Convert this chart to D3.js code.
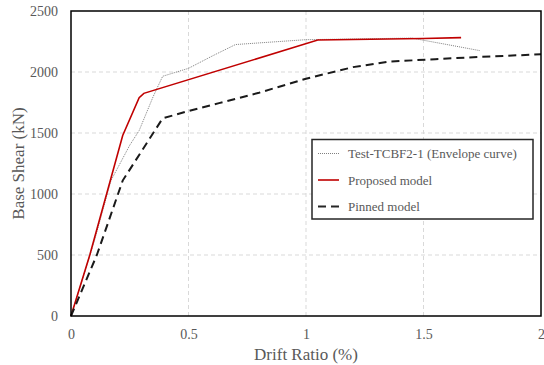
<!DOCTYPE html>
<html>
<head>
<meta charset="utf-8">
<script src="https://cdn.jsdelivr.net/npm/d3@7"></script>
<style>
  body { margin: 0; background: #fff; }
</style>
</head>
<body>
<div id="chart"></div>
<script>
// test envelope curve (drift %, kN)
const testDrift = [0, 0.1, 0.17, 0.25, 0.29, 0.35, 0.39, 0.5, 0.6, 0.7, 1.0, 1.45, 1.6, 1.74];
const testShear = [0, 620, 1110, 1400, 1520, 1800, 1965, 2030, 2130, 2225, 2265, 2278, 2225, 2175];

const propDrift = [0, 0.08, 0.22, 0.29, 0.31, 1.05, 1.5, 1.66];
const propShear = [0, 500, 1480, 1790, 1825, 2262, 2275, 2282];

const pinDrift = [0, 0.11, 0.22, 0.39, 0.5, 0.63, 0.8, 1.0, 1.2, 1.35, 1.55, 1.75, 2.0];
const pinShear = [0, 500, 1110, 1620, 1680, 1745, 1830, 1945, 2040, 2085, 2105, 2125, 2145];

const xTicks = [0, 0.5, 1, 1.5, 2];
const yTicks = [0, 500, 1000, 1500, 2000, 2500];
const legendLabels = ["Test-TCBF2-1 (Envelope curve)", "Proposed model", "Pinned model"];

const FONT = '"Liberation Serif"';
const W = 544, H = 365;
const margin = {top: 11, right: 3, bottom: 49, left: 71};
const width = W - margin.left - margin.right,
    height = H - margin.top - margin.bottom;

const svg = d3.select("#chart").append("svg")
    .attr("width", W)
    .attr("height", H);

const g = svg.append("g").attr("transform", `translate(${margin.left},${margin.top})`);

const x = d3.scaleLinear().domain([0, 2]).range([0, width]);
const y = d3.scaleLinear().domain([0, 2500]).range([height, 0]);

// grid
g.selectAll(".vgrid").data(xTicks.slice(1, -1)).enter().append("line")
    .attr("x1", d => x(d)).attr("x2", d => x(d))
    .attr("y1", 0).attr("y2", height)
    .style("stroke", "#d9d9d9").style("stroke-dasharray", "4,3");
g.selectAll(".hgrid").data(yTicks.slice(1, -1)).enter().append("line")
    .attr("x1", 0).attr("x2", width)
    .attr("y1", d => y(d)).attr("y2", d => y(d))
    .style("stroke", "#d9d9d9").style("stroke-dasharray", "4,3");

// axes (labels only)
const xAxis = g.append("g").attr("transform", `translate(0,${height})`)
    .call(d3.axisBottom(x).tickValues(xTicks).tickSize(0).tickPadding(13).tickFormat(d3.format("")));
const yAxis = g.append("g")
    .call(d3.axisLeft(y).tickValues(yTicks).tickSize(0).tickPadding(13).tickFormat(d3.format("d")));
[xAxis, yAxis].forEach(a => {
    a.select(".domain").remove();
    a.selectAll("text")
        .style("font-family", FONT).style("font-size", "14px")
        .attr("fill", "#595959");
});

const line = d3.line().x(d => x(d[0])).y(d => y(d[1]));
const zip = (a, b) => a.map((v, i) => [v, b[i]]);

g.append("path").datum(zip(testDrift, testShear))
    .attr("d", line).attr("fill", "none")
    .style("stroke", "#7f7f7f").style("stroke-width", 1).style("stroke-dasharray", "1,1");
g.append("path").datum(zip(propDrift, propShear))
    .attr("d", line).attr("fill", "none")
    .style("stroke", "#c00000").style("stroke-width", 1.6);
g.append("path").datum(zip(pinDrift, pinShear))
    .attr("d", line).attr("fill", "none")
    .style("stroke", "#1a1a1a").style("stroke-width", 2).style("stroke-dasharray", "8,5");

// frame
g.append("rect").attr("width", width).attr("height", height)
    .attr("fill", "none").style("stroke", "#000").style("stroke-width", 1.5);

// legend
const lg = svg.append("g").attr("transform", "translate(312,139.5)");
lg.append("rect").attr("width", 221).attr("height", 79.5)
    .attr("fill", "#fff").style("stroke", "#262626").style("stroke-width", 1.5);
const styles = [
    {stroke: "#7f7f7f", w: 1, dash: "1,1"},
    {stroke: "#c00000", w: 1.6, dash: null},
    {stroke: "#262626", w: 2, dash: "8,5"}
];
legendLabels.forEach((lab, i) => {
    const yy = 14 + i * 26.5;
    lg.append("line").attr("x1", 6).attr("x2", 27).attr("y1", yy).attr("y2", yy)
        .style("stroke", styles[i].stroke).style("stroke-width", styles[i].w)
        .style("stroke-dasharray", styles[i].dash);
    lg.append("text").attr("x", 36).attr("y", yy + 4.5)
        .attr("fill", "#595959")
        .style("font-family", FONT).style("font-size", "13px").text(lab);
});

// titles
svg.append("text").attr("x", margin.left + width / 2).attr("y", 360)
    .attr("text-anchor", "middle").attr("fill", "#595959")
    .style("font-family", FONT).style("font-size", "17px").text("Drift Ratio (%)");
svg.append("text").attr("transform", `translate(24,${margin.top + height / 2}) rotate(-90)`)
    .attr("text-anchor", "middle").attr("fill", "#595959")
    .style("font-family", FONT).style("font-size", "17px").text("Base Shear (kN)");
</script>
</body>
</html>
